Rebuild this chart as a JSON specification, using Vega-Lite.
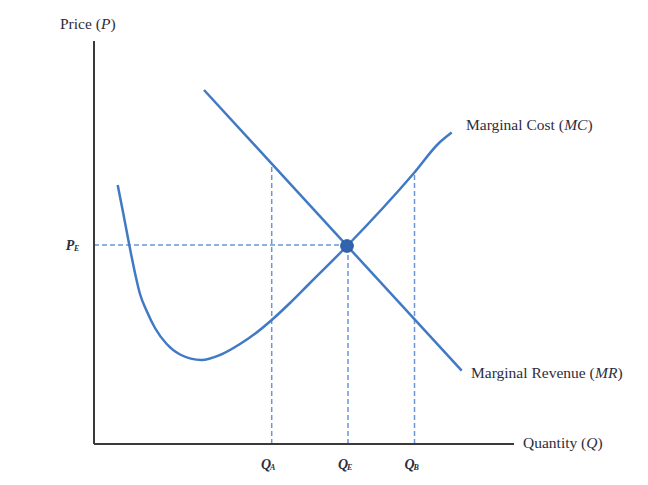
{
  "$schema": "https://vega.github.io/schema/vega-lite/v6.json",
  "width": 420,
  "height": 403,
  "autosize": {"type": "none"},
  "padding": {"left": 94, "top": 41, "right": 134, "bottom": 41},
  "background": "white",
  "config": {"view": {"stroke": null}, "text": {"font": "Liberation Serif", "color": "#2d2d3c"}},
  "datasets": {
    "curves": [
      {"series": "MC", "q": 23.7, "p": 259},
      {"series": "MC", "q": 29.3, "p": 230.5},
      {"series": "MC", "q": 35.3, "p": 199},
      {"series": "MC", "q": 41, "p": 171},
      {"series": "MC", "q": 46, "p": 150},
      {"series": "MC", "q": 52.7, "p": 133},
      {"series": "MC", "q": 61, "p": 116},
      {"series": "MC", "q": 72.7, "p": 100},
      {"series": "MC", "q": 86, "p": 89.5},
      {"series": "MC", "q": 107.7, "p": 84},
      {"series": "MC", "q": 126, "p": 89},
      {"series": "MC", "q": 146, "p": 100},
      {"series": "MC", "q": 162, "p": 111},
      {"series": "MC", "q": 177.7, "p": 124},
      {"series": "MC", "q": 196, "p": 141},
      {"series": "MC", "q": 215, "p": 160},
      {"series": "MC", "q": 253, "p": 198},
      {"series": "MC", "q": 320, "p": 271},
      {"series": "MC", "q": 345, "p": 301},
      {"series": "MC", "q": 357.7, "p": 311.5},
      {"series": "MR", "q": 110, "p": 354},
      {"series": "MR", "q": 367.7, "p": 73.3}
    ],
    "guides": [
      {"x": 0, "y": 199, "x2": 253, "y2": 199},
      {"x": 177.7, "y": 0, "x2": 177.7, "y2": 281},
      {"x": 254, "y": 0, "x2": 254, "y2": 198},
      {"x": 320.5, "y": 0, "x2": 320.5, "y2": 271}
    ],
    "axes": [
      {"x": 0, "y": 0, "x2": 0, "y2": 403},
      {"x": 0, "y": 0, "x2": 420, "y2": 0}
    ],
    "labels": [
      {"x": -34, "y": 420, "text": "Price ("},
      {"x": 16.4, "y": 420, "text": ")"},
      {"x": 372, "y": 319, "text": "Marginal Cost ("},
      {"x": 493.4, "y": 319, "text": ")"},
      {"x": 377, "y": 71, "text": "Marginal Revenue ("},
      {"x": 523.4, "y": 71, "text": ")"},
      {"x": 429, "y": 1, "text": "Quantity ("},
      {"x": 503.5, "y": 1, "text": ")"}
    ],
    "italicLabels": [
      {"x": 6.9, "y": 420, "text": "P"},
      {"x": 470.2, "y": 319, "text": "MC"},
      {"x": 501, "y": 71, "text": "MR"},
      {"x": 492.3, "y": 1, "text": "Q"}
    ],
    "mainSym": [
      {"x": 172, "y": -21, "text": "Q"},
      {"x": 249, "y": -21, "text": "Q"},
      {"x": 315.5, "y": -21, "text": "Q"},
      {"x": -24, "y": 198, "text": "P"}
    ],
    "subSym": [
      {"x": 172, "y": -21, "text": "A"},
      {"x": 249, "y": -21, "text": "E"},
      {"x": 315.5, "y": -21, "text": "B"},
      {"x": -24, "y": 198, "text": "E"}
    ],
    "eq": [{"x": 253, "y": 198}]
  },
  "layer": [
    {
      "data": {"name": "guides"},
      "mark": {"type": "rule", "color": "#6a96d6", "strokeWidth": 1.5, "strokeDash": [5, 3]},
      "encoding": {
        "x": {"field": "x", "type": "quantitative", "scale": {"domain": [0, 420], "nice": false, "zero": false}, "axis": null},
        "y": {"field": "y", "type": "quantitative", "scale": {"domain": [0, 403], "nice": false, "zero": false}, "axis": null},
        "x2": {"field": "x2"},
        "y2": {"field": "y2"}
      }
    },
    {
      "data": {"name": "axes"},
      "mark": {"type": "rule", "color": "#3a3a3a", "strokeWidth": 2},
      "encoding": {
        "x": {"field": "x", "type": "quantitative", "scale": {"domain": [0, 420], "nice": false, "zero": false}, "axis": null},
        "y": {"field": "y", "type": "quantitative", "scale": {"domain": [0, 403], "nice": false, "zero": false}, "axis": null},
        "x2": {"field": "x2"},
        "y2": {"field": "y2"}
      }
    },
    {
      "data": {"name": "curves"},
      "mark": {"type": "line", "color": "#4079c4", "strokeWidth": 2.5, "interpolate": "monotone"},
      "encoding": {
        "x": {"field": "q", "type": "quantitative", "scale": {"domain": [0, 420], "nice": false, "zero": false}, "axis": null},
        "y": {"field": "p", "type": "quantitative", "scale": {"domain": [0, 403], "nice": false, "zero": false}, "axis": null},
        "detail": {"field": "series"}
      }
    },
    {
      "data": {"name": "eq"},
      "mark": {"type": "point", "filled": true, "color": "#3064b0", "size": 160, "opacity": 1, "stroke": "#2a5596", "strokeWidth": 1},
      "encoding": {
        "x": {"field": "x", "type": "quantitative", "scale": {"domain": [0, 420], "nice": false, "zero": false}, "axis": null},
        "y": {"field": "y", "type": "quantitative", "scale": {"domain": [0, 403], "nice": false, "zero": false}, "axis": null}
      }
    },
    {
      "data": {"name": "labels"},
      "mark": {"type": "text", "align": "left", "baseline": "middle", "fontSize": 15.5},
      "encoding": {
        "x": {"field": "x", "type": "quantitative", "scale": {"domain": [0, 420], "nice": false, "zero": false}, "axis": null},
        "y": {"field": "y", "type": "quantitative", "scale": {"domain": [0, 403], "nice": false, "zero": false}, "axis": null},
        "text": {"field": "text"}
      }
    },
    {
      "data": {"name": "italicLabels"},
      "mark": {"type": "text", "align": "left", "baseline": "middle", "fontSize": 15.5, "fontStyle": "italic"},
      "encoding": {
        "x": {"field": "x", "type": "quantitative", "scale": {"domain": [0, 420], "nice": false, "zero": false}, "axis": null},
        "y": {"field": "y", "type": "quantitative", "scale": {"domain": [0, 403], "nice": false, "zero": false}, "axis": null},
        "text": {"field": "text"}
      }
    },
    {
      "data": {"name": "mainSym"},
      "mark": {"type": "text", "align": "center", "baseline": "middle", "fontSize": 14, "fontStyle": "italic", "fontWeight": "bold"},
      "encoding": {
        "x": {"field": "x", "type": "quantitative", "scale": {"domain": [0, 420], "nice": false, "zero": false}, "axis": null},
        "y": {"field": "y", "type": "quantitative", "scale": {"domain": [0, 403], "nice": false, "zero": false}, "axis": null},
        "text": {"field": "text"}
      }
    },
    {
      "data": {"name": "subSym"},
      "mark": {"type": "text", "align": "left", "baseline": "middle", "fontSize": 8, "fontStyle": "italic", "fontWeight": "bold", "dx": 4, "dy": 3},
      "encoding": {
        "x": {"field": "x", "type": "quantitative", "scale": {"domain": [0, 420], "nice": false, "zero": false}, "axis": null},
        "y": {"field": "y", "type": "quantitative", "scale": {"domain": [0, 403], "nice": false, "zero": false}, "axis": null},
        "text": {"field": "text"}
      }
    }
  ]
}
